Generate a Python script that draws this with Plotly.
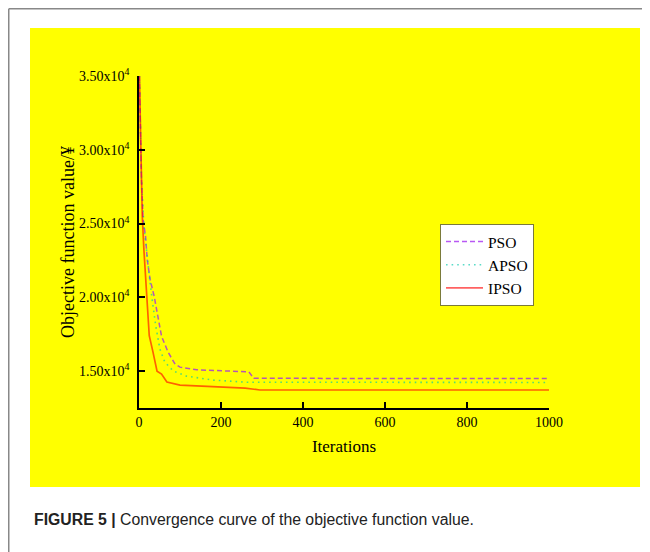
import plotly.graph_objects as go

# ---- data ----
pso_iter = [1, 6, 10, 16, 20, 27, 37, 43, 55, 71, 88, 100, 141, 268, 280, 1000]
pso_val = [35000, 27970, 25270, 24120, 22570, 21220, 20070, 19190, 17360, 16280, 15470, 15270, 15090, 14950, 14510, 14500]

apso_iter = [1, 6, 12, 20, 27, 33, 41, 51, 63, 84, 116, 180, 263, 1000]
apso_val = [35000, 28000, 24800, 22500, 21010, 19660, 18040, 16490, 15610, 15000, 14660, 14390, 14250, 14230]

ipso_iter = [1, 5, 8, 12, 15, 19, 25, 34, 44, 55, 68, 100, 198, 259, 295, 1000]
ipso_val = [35000, 28500, 25500, 23200, 22000, 20500, 17400, 16300, 15000, 14800, 14260, 14050, 13920, 13850, 13720, 13720]

y_tickvals = [15000, 20000, 25000, 30000, 35000]
y_ticktext = ["1.50x10<sup>4</sup>", "2.00x10<sup>4</sup>", "2.50x10<sup>4</sup>",
              "3.00x10<sup>4</sup>", "3.50x10<sup>4</sup>"]
x_tickvals = [0, 200, 400, 600, 800, 1000]

SERIF = "Liberation Serif"
OFF = 8                      # page body margin offset of the figure
W, H = 650 - OFF, 552 - OFF  # figure size
# plot area in page pixels
L, R, T, B = 139 - OFF, 549 - OFF, 76 - OFF, 408 - OFF

fig = go.Figure()
fig.add_trace(go.Scatter(x=pso_iter, y=pso_val, mode="lines", name="PSO",
                         line=dict(color="rgba(160,32,240,0.75)", width=1.5, dash="5px,3px")))
fig.add_trace(go.Scatter(x=apso_iter, y=apso_val, mode="lines", name="APSO",
                         line=dict(color="rgba(0,200,170,0.65)", width=1.6, dash="1.6px,4px")))
fig.add_trace(go.Scatter(x=ipso_iter, y=ipso_val, mode="lines", name="IPSO",
                         line=dict(color="rgba(255,0,0,0.62)", width=1.7)))

# convert page pixel positions to paper coordinates (relative to plot area)
def px_x(p):
    return (p - OFF - L) / (R - L)

def px_y(p):
    return (B - (p - OFF)) / (B - T)

shapes = [
    # yellow background panel
    dict(type="rect", xref="paper", yref="paper", x0=px_x(30), x1=px_x(640),
         y0=px_y(487), y1=px_y(28), fillcolor="#FFFF00", line=dict(width=0), layer="below"),
    # outer gray frame (top and left)
    dict(type="line", xref="paper", yref="paper", x0=px_x(OFF + 0.75), x1=px_x(660),
         y0=px_y(OFF + 0.75), y1=px_y(OFF + 0.75),
         line=dict(color="#888888", width=1.5)),
    dict(type="line", xref="paper", yref="paper", x0=px_x(OFF + 0.75), x1=px_x(OFF + 0.75),
         y0=px_y(560), y1=px_y(OFF + 0.75),
         line=dict(color="#888888", width=1.5)),
]

fig.update_layout(
    width=W, height=H, autosize=False,
    margin=dict(l=L, r=W - R, t=T, b=H - B, pad=0),
    paper_bgcolor="white", plot_bgcolor="rgba(0,0,0,0)",
    shapes=shapes,
    showlegend=True,
    legend=dict(x=px_x(440), y=px_y(224), xanchor="left", yanchor="top",
                bgcolor="white", bordercolor="#7a7a3a", borderwidth=1,
                font=dict(family=SERIF, size=15.5, color="black"),
                tracegroupgap=0, itemwidth=37),
    font=dict(family=SERIF, color="black"),
    annotations=[
        dict(xref="paper", yref="paper", x=px_x(32), y=px_y(519), xanchor="left", yanchor="middle",
             text="<b>FIGURE 5 |</b> Convergence curve of the objective function value.",
             showarrow=False, font=dict(family="Liberation Sans", size=15.8, color="#222222")),
    ],
)

fig.update_xaxes(range=[0, 1000], tickvals=x_tickvals, ticks="inside", ticklen=6, automargin=False,
                 tickwidth=1.5, tickcolor="black", showline=True, linecolor="black", linewidth=1.5,
                 showgrid=False, zeroline=False, tickfont=dict(family=SERIF, size=14, color="black"),
                 title=dict(text="Iterations", font=dict(family=SERIF, size=17, color="black"), standoff=12))
fig.update_yaxes(range=[12500, 35000], tickvals=y_tickvals, ticktext=y_ticktext, ticks="inside",
                 ticklen=6, tickwidth=1.5, tickcolor="black", showline=True, linecolor="black",
                 linewidth=1.5, showgrid=False, zeroline=False, automargin=False,
                 ticklabelstandoff=5,
                 tickfont=dict(family=SERIF, size=14, color="black"),
                 title=dict(text="Objective function value/¥", font=dict(family=SERIF, size=18, color="black"),
                            standoff=0))

fig.write_html("out.html")
